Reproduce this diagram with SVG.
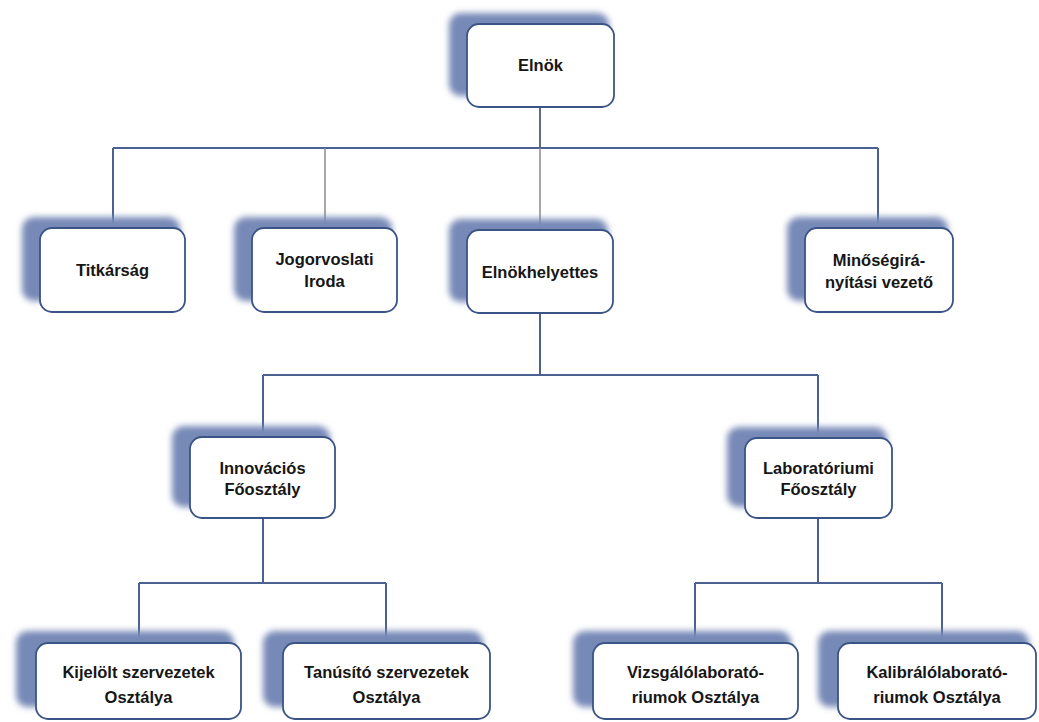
<svg xmlns="http://www.w3.org/2000/svg" width="1039" height="722" viewBox="0 0 1039 722">
<defs>
<filter id="blur" x="-20%" y="-20%" width="140%" height="140%"><feGaussianBlur stdDeviation="3.2"/></filter>
<style>
.sh{fill:#7789b7;filter:url(#blur)}
.bx{fill:#ffffff;stroke:#3b5486;stroke-width:1.8}
.t{font-family:"Liberation Sans",Arial,sans-serif;font-weight:bold;font-size:16.5px;fill:#161616;text-anchor:middle}
.ln{stroke:#4b6191;stroke-width:2;fill:none}
.lg{stroke:#8a8a8a;stroke-width:1.5;fill:none}
.ld{stroke:#2a3a60;stroke-width:1.5;fill:none}
</style>
</defs>
<rect width="1039" height="722" fill="#ffffff"/>
<g id="connectors">
<line class="ld" x1="540" y1="107" x2="540" y2="148"/>
<line class="ln" x1="113" y1="148" x2="878" y2="148"/>
<line class="ln" x1="113" y1="148" x2="113" y2="228"/>
<line class="lg" x1="325" y1="148" x2="325" y2="228"/>
<line class="lg" x1="540" y1="148" x2="540" y2="230"/>
<line class="ln" x1="878" y1="148" x2="878" y2="228"/>
<line class="ln" x1="540" y1="313" x2="540" y2="375"/>
<line class="ln" x1="263" y1="375" x2="818" y2="375"/>
<line class="ln" x1="263" y1="375" x2="263" y2="437"/>
<line class="ln" x1="818" y1="375" x2="818" y2="438"/>
<line class="ln" x1="263" y1="518" x2="263" y2="583"/>
<line class="ln" x1="139" y1="583" x2="386" y2="583"/>
<line class="ln" x1="139" y1="583" x2="139" y2="643"/>
<line class="ln" x1="386" y1="583" x2="386" y2="643"/>
<line class="ln" x1="818" y1="518" x2="818" y2="583"/>
<line class="ln" x1="695" y1="583" x2="942" y2="583"/>
<line class="ln" x1="695" y1="583" x2="695" y2="643"/>
<line class="ln" x1="942" y1="583" x2="942" y2="643"/>
</g>
<g id="elnok">
<rect class="sh" x="449" y="13" width="160" height="83" rx="12"/>
<rect class="bx" x="467" y="24" width="147" height="83" rx="12"/>
<text class="t" x="540.5" y="71">Elnök</text>
</g>
<g id="titkarsag">
<rect class="sh" x="22" y="217" width="158" height="84" rx="12"/>
<rect class="bx" x="40" y="228" width="145" height="84" rx="12"/>
<text class="t" x="112.5" y="276">Titkárság</text>
</g>
<g id="jogorvoslati">
<rect class="sh" x="234" y="217" width="158" height="84" rx="12"/>
<rect class="bx" x="252" y="228" width="145" height="84" rx="12"/>
<text class="t" x="324.5" y="265">Jogorvoslati</text>
<text class="t" x="324.5" y="287">Iroda</text>
</g>
<g id="elnokhelyettes">
<rect class="sh" x="449" y="219" width="159" height="83" rx="12"/>
<rect class="bx" x="467" y="230" width="146" height="83" rx="12"/>
<text class="t" x="540" y="278">Elnökhelyettes</text>
</g>
<g id="minosegiranyitasi">
<rect class="sh" x="787" y="217" width="161" height="84" rx="12"/>
<rect class="bx" x="805" y="228" width="148" height="84" rx="12"/>
<text class="t" x="879" y="266">Minőségirá-</text>
<text class="t" x="879" y="288">nyítási vezető</text>
</g>
<g id="innovacios">
<rect class="sh" x="172" y="426" width="158" height="81" rx="12"/>
<rect class="bx" x="190" y="437" width="145" height="81" rx="12"/>
<text class="t" x="262.5" y="474">Innovációs</text>
<text class="t" x="262.5" y="495">Főosztály</text>
</g>
<g id="laboratoriumi">
<rect class="sh" x="727" y="427" width="160" height="80" rx="12"/>
<rect class="bx" x="745" y="438" width="147" height="80" rx="12"/>
<text class="t" x="818.5" y="474">Laboratóriumi</text>
<text class="t" x="818.5" y="495">Főosztály</text>
</g>
<g id="kijelolt">
<rect class="sh" x="16" y="631" width="218" height="76" rx="12"/>
<rect class="bx" x="36" y="643" width="205" height="76" rx="12"/>
<text class="t" x="138.5" y="678">Kijelölt szervezetek</text>
<text class="t" x="138.5" y="703">Osztálya</text>
</g>
<g id="tanusito">
<rect class="sh" x="263" y="631" width="220" height="76" rx="12"/>
<rect class="bx" x="283" y="643" width="207" height="76" rx="12"/>
<text class="t" x="386.5" y="678">Tanúsító szervezetek</text>
<text class="t" x="386.5" y="703">Osztálya</text>
</g>
<g id="vizsgalo">
<rect class="sh" x="573" y="631" width="218" height="76" rx="12"/>
<rect class="bx" x="593" y="643" width="205" height="76" rx="12"/>
<text class="t" x="695.5" y="678">Vizsgálólaborató-</text>
<text class="t" x="695.5" y="703">riumok Osztálya</text>
</g>
<g id="kalibralo">
<rect class="sh" x="818" y="631" width="211" height="76" rx="12"/>
<rect class="bx" x="838" y="643" width="198" height="76" rx="12"/>
<text class="t" x="937" y="678">Kalibrálólaborató-</text>
<text class="t" x="937" y="703">riumok Osztálya</text>
</g>
</svg>
